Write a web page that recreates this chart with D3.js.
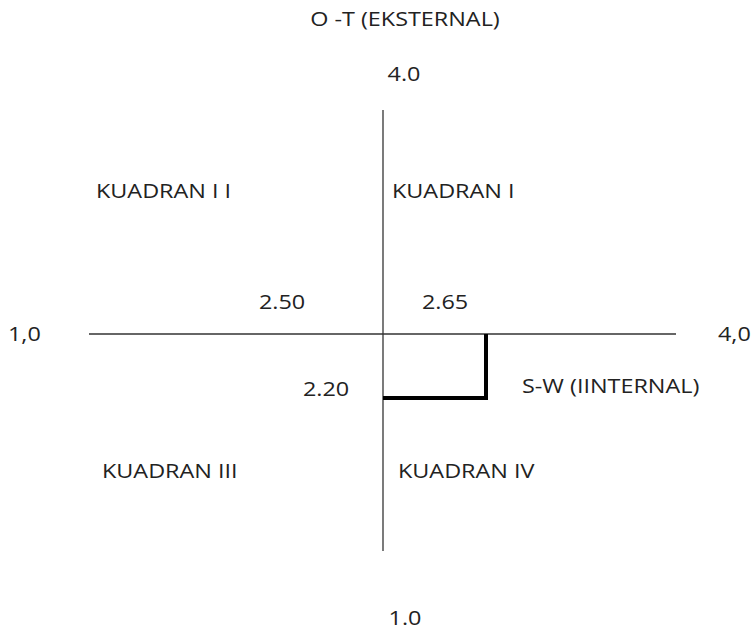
<!DOCTYPE html>
<html><head><meta charset="utf-8">
<script src="https://cdn.jsdelivr.net/npm/d3@7"></script>
<style>body{margin:0;background:#fff}text{font-family:"Open Sans",sans-serif;fill:#222}</style>
</head><body><svg id="c" width="752" height="630"></svg>
<script>
// Data
const xDomain = [1.0, 4.0];           // internal (S-W) axis ends
const yDomain = [1.0, 4.0];           // external (O-T) axis ends
const midValue = 2.50;                // quadrant divider value
const internalScore = 2.65;           // S-W score
const externalScore = 2.20;           // O-T score
const axisEndLabels = {left:"1,0", right:"4,0", top:"4.0", bottom:"1.0"};
const axisTitles = {x:"S-W (IINTERNAL)", y:"O -T (EKSTERNAL)"};
const quadrantLabels = ["KUADRAN I","KUADRAN I I","KUADRAN III","KUADRAN IV"];
const valueLabels = ["2.50","2.65","2.20"];

const svg = d3.select("#c");
// schematic (non-uniform) scales as in the reference diagram
const x = d3.scaleLinear().domain([xDomain[0], midValue, internalScore, xDomain[1]]).range([89, 383, 486, 676]);
const y = d3.scaleLinear().domain([yDomain[1], midValue, externalScore, yDomain[0]]).range([110, 334, 398, 551]);

const fs = 19.5, sx = 1.2;
// axes
svg.append("line").attr("x1", x(xDomain[0])).attr("x2", x(xDomain[1])).attr("y1", y(midValue)).attr("y2", y(midValue))
  .attr("stroke","#333").attr("stroke-width",1.3);
svg.append("line").attr("x1", x(midValue)).attr("x2", x(midValue)).attr("y1", y(yDomain[1])).attr("y2", y(yDomain[0]))
  .attr("stroke","#333").attr("stroke-width",1.3);
// position bracket
svg.append("path")
  .attr("d", d3.line()([[x(internalScore), y(midValue)], [x(internalScore), y(externalScore)], [x(midValue), y(externalScore)]]))
  .attr("fill","none").attr("stroke","#000").attr("stroke-width",4);

function t(str, px, py, anchor){
  svg.append("text").attr("transform",`translate(${px},${py}) scale(${sx},1)`)
    .attr("text-anchor",anchor||"start").attr("font-size",fs).text(str);
}
t(axisTitles.y, 405, 26, "middle");
t(axisEndLabels.top, 404, 81, "middle");
t(axisEndLabels.bottom, 405, 625, "middle");
t(axisEndLabels.left, 8, 341);
t(axisEndLabels.right, 718, 341);
t(axisTitles.x, 522, 393);
t(quadrantLabels[0], 392, 198);
t(quadrantLabels[1], 96, 198);
t(quadrantLabels[2], 102, 478);
t(quadrantLabels[3], 398, 478);
t(valueLabels[0], 282, 309, "middle");
t(valueLabels[1], 445, 309, "middle");
t(valueLabels[2], 326, 396, "middle");
</script></body></html>
